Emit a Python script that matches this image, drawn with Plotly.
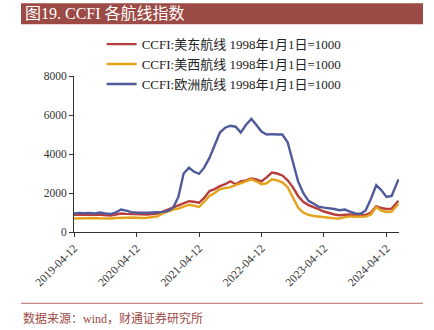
import plotly.graph_objects as go

dates = [
    "2019-04-12", "2019-05-12", "2019-06-12", "2019-07-12", "2019-08-12", "2019-09-12",
    "2019-10-12", "2019-11-12", "2019-12-12", "2020-01-12", "2020-02-12", "2020-03-12",
    "2020-04-12", "2020-05-12", "2020-06-12", "2020-07-12", "2020-08-12", "2020-09-12",
    "2020-10-12", "2020-11-12", "2020-12-12", "2021-01-12", "2021-02-12", "2021-03-12",
    "2021-04-12", "2021-05-12", "2021-06-12", "2021-07-12", "2021-08-12", "2021-09-12",
    "2021-10-12", "2021-11-12", "2021-12-12", "2022-01-12", "2022-02-12", "2022-03-12",
    "2022-04-12", "2022-05-12", "2022-06-12", "2022-07-12", "2022-08-12", "2022-09-12",
    "2022-10-12", "2022-11-12", "2022-12-12", "2023-01-12", "2023-02-12", "2023-03-12",
    "2023-04-12", "2023-05-12", "2023-06-12", "2023-07-12", "2023-08-12", "2023-09-12",
    "2023-10-12", "2023-11-12", "2023-12-12", "2024-01-12", "2024-02-12", "2024-03-12",
    "2024-04-12", "2024-05-12", "2024-06-21",
]

us_east = [
    880, 890, 900, 910, 900, 880, 860, 850, 900, 950, 930, 920,
    900, 890, 900, 920, 950, 1050, 1150, 1250, 1350, 1450, 1580, 1550,
    1500, 1750, 2100, 2200, 2350, 2450, 2600, 2450, 2600, 2650, 2750, 2700,
    2600, 2800, 3050, 3000, 2900, 2650, 2300, 1850, 1550, 1380, 1250, 1170,
    1050, 960, 900, 860, 880, 900, 870, 860, 880, 1000, 1320, 1230,
    1180, 1200, 1600,
]

us_west = [
    690, 700, 720, 710, 720, 700, 680, 690, 720, 740, 730, 740,
    720, 720, 730, 750, 800, 950, 1050, 1150, 1200, 1300, 1400, 1350,
    1280, 1550, 1850, 2000, 2200, 2250, 2300, 2400, 2500, 2600, 2700, 2600,
    2450, 2500, 2700, 2650, 2550, 2300, 1750, 1250, 1000, 880, 820, 780,
    750, 730, 700, 690, 760, 800, 780, 770, 790, 900, 1280, 1100,
    1030, 1050, 1450,
]

europe = [
    950, 980, 960, 980, 950, 1000, 950, 920, 1000, 1150, 1100, 1020,
    1000, 980, 990, 1000, 1010, 1030, 1080, 1250, 1800, 3000, 3300, 3100,
    2980, 3300, 3800, 4400, 5100, 5350, 5450, 5400, 5100, 5500, 5800, 5500,
    5150, 5000, 5020, 5000, 5000, 4600, 3600, 2600, 2000, 1600, 1450, 1300,
    1250, 1220, 1180, 1120, 1150, 1050, 950, 930, 1100, 1700, 2400, 2150,
    1800, 1850, 2700,
]

series_names = [
    "CCFI:美东航线 1998年1月1日=1000",
    "CCFI:美西航线 1998年1月1日=1000",
    "CCFI:欧洲航线 1998年1月1日=1000",
]
tick_dates = ["2019-04-12", "2020-04-12", "2021-04-12", "2022-04-12", "2023-04-12", "2024-04-12"]
y_ticks = [0, 2000, 4000, 6000, 8000]

colors = ["#B83D3D", "#E3A21A", "#4F5A9B"]
FONT = "Liberation Serif, Noto Sans CJK SC, serif"

fig = go.Figure()
for name, vals, col in zip(series_names, [us_east, us_west, europe], colors):
    fig.add_trace(go.Scatter(x=dates, y=vals, mode="lines", name=name,
                             line=dict(color=col, width=2.4)))

fig.update_layout(
    width=434, height=330,
    margin=dict(l=74, r=35, t=76, b=98),
    paper_bgcolor="white", plot_bgcolor="white",
    font=dict(family=FONT, size=12, color="#333333"),
    showlegend=True,
    legend=dict(x=0.085, y=1.30, xanchor="left", yanchor="top",
                font=dict(family=FONT, size=13, color="#222222"),
                bgcolor="rgba(0,0,0,0)", tracegroupgap=0, itemwidth=30),
    xaxis=dict(
        type="date", range=["2019-04-12", "2024-06-24"],
        tickmode="array", tickvals=tick_dates, ticktext=tick_dates,
        tickangle=-45, ticks="outside", ticklen=4, tickcolor="#333333",
        showline=True, linecolor="#333333", linewidth=1,
        showgrid=False, zeroline=False,
        tickfont=dict(family=FONT, size=11.5, color="#333333"),
    ),
    yaxis=dict(
        range=[0, 8000], tickmode="array", tickvals=y_ticks,
        ticks="outside", ticklen=4, tickcolor="#333333",
        showline=True, linecolor="#333333", linewidth=1,
        showgrid=False, zeroline=False,
        tickfont=dict(family=FONT, size=11.5, color="#333333"),
    ),
)

# title band
fig.add_shape(type="rect", xref="paper", yref="paper",
              x0=(21 - 74) / 325, x1=(423 - 74) / 325,
              y0=(231.7 - 24) / 156, y1=(231.7 - 3) / 156,
              fillcolor="#9C4A45", line=dict(width=0), layer="above")
fig.add_annotation(xref="paper", yref="paper", x=(23 - 74) / 325, y=(231.7 - 13.5) / 156,
                   xanchor="left", yanchor="middle", showarrow=False,
                   text="图19. CCFI 各航线指数",
                   font=dict(family=FONT, size=16, color="white"))
# bottom rule and source
fig.add_shape(type="line", xref="paper", yref="paper",
              x0=(21 - 74) / 325, x1=(423 - 74) / 325,
              y0=(231.7 - 303) / 156, y1=(231.7 - 303) / 156,
              line=dict(color="#B46E6A", width=1))
fig.add_annotation(xref="paper", yref="paper", x=(21 - 74) / 325, y=(231.7 - 318) / 156,
                   xanchor="left", yanchor="middle", showarrow=False,
                   text="数据来源：wind，财通证券研究所",
                   font=dict(family=FONT, size=12, color="#9C4A45"))

fig.write_html("out.html")
